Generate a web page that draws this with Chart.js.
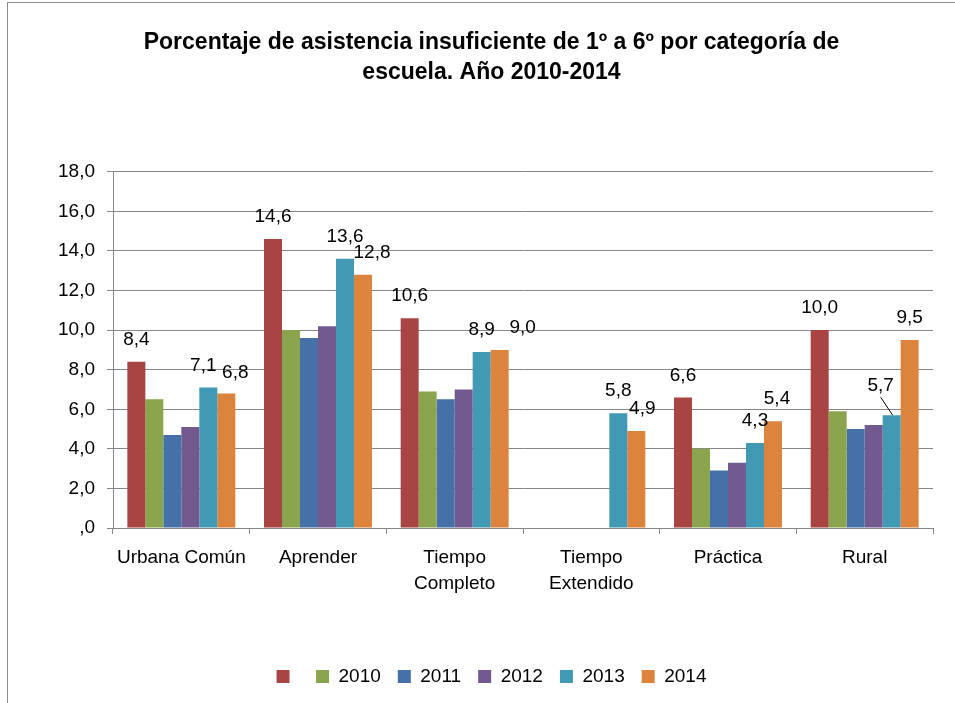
<!DOCTYPE html>
<html>
<head>
<meta charset="utf-8">
<script src="https://cdn.jsdelivr.net/npm/chart.js@4.4.1/dist/chart.umd.min.js"></script>
<style>
  html, body { margin: 0; padding: 0; background: #fff; }
  #wrap { position: relative; width: 955px; height: 703px; overflow: hidden; }
  #frame { position: absolute; left: 7px; top: 2px; width: 960px; height: 720px; border: 1px solid #8c8c8c; box-sizing: border-box; }
  canvas { position: absolute; left: 0; top: 0; }
</style>
</head>
<body>
<div id="wrap">
  <div id="frame"></div>
  <canvas id="chart" width="955" height="703"></canvas>
</div>
<script>
/* ── Data ───────────────────────────────────────────────────────── */
const categories = [['Urbana Común'], ['Aprender'], ['Tiempo', 'Completo'], ['Tiempo', 'Extendido'], ['Práctica'], ['Rural']];
const seriesNames = ['', '2010', '2011', '2012', '2013', '2014'];
const serieSinNombre = [8.4, 14.6, 10.6, null, 6.6, 10.0];
const valores2010 = [6.5, 10.0, 6.9, null, 4.0, 5.9];
const valores2011 = [4.7, 9.6, 6.5, null, 2.9, 5.0];
const valores2012 = [5.1, 10.2, 7.0, null, 3.3, 5.2];
const valores2013 = [7.1, 13.6, 8.9, 5.8, 4.3, 5.7];
const valores2014 = [6.8, 12.8, 9.0, 4.9, 5.4, 9.5];
const yTicks = [0, 2, 4, 6, 8, 10, 12, 14, 16, 18];

const colors = ['#A84542', '#8AA54E', '#4571A8', '#72598F', '#4299B3', '#DC843E'];
const FONT = '"Liberation Sans", Arial, sans-serif';

const fmt = v => v === 0 ? ',0' : v.toFixed(1).replace('.', ',');

/* ── Data labels (series 0, 2013, 2014) ─────────────────────────── */
const labelled = [0, 4, 5];
const nudge = { '4,0': [-5, 0], '5,0': [9, 1], '5,1': [9, 0], '5,2': [23, 0], '5,3': [6, 0], '5,4': [4, 0], '4,5': [-11, -7] };
const valueLabels = {
  id: 'valueLabels',
  afterDatasetsDraw(chart) {
    const ctx = chart.ctx;
    ctx.save();
    ctx.font = '19px ' + FONT;
    ctx.fillStyle = '#000';
    ctx.textAlign = 'center';
    ctx.textBaseline = 'middle';
    labelled.forEach(di => {
      const meta = chart.getDatasetMeta(di);
      chart.data.datasets[di].data.forEach((v, i) => {
        if (v == null) return;
        const bar = meta.data[i];
        const [dx, dy] = nudge[di + ',' + i] || [0, 0];
        const tx = bar.x + dx, ty = bar.y - 22 + dy;
        ctx.fillText(fmt(v), tx, ty);
        if (di === 4 && i === 5) {
          // leader line to the bar
          ctx.strokeStyle = '#000';
          ctx.lineWidth = 1;
          ctx.beginPath();
          ctx.moveTo(tx, ty + 11);
          ctx.lineTo(bar.x + 1, bar.y);
          ctx.stroke();
        }
      });
    });
    ctx.restore();
  }
};

const allSeries = [serieSinNombre, valores2010, valores2011, valores2012, valores2013, valores2014];

new Chart(document.getElementById('chart'), {
  type: 'bar',
  data: {
    labels: categories,
    datasets: allSeries.map((d, k) => ({
      label: seriesNames[k],
      data: d,
      backgroundColor: colors[k],
      borderWidth: 0,
      categoryPercentage: 0.79,
      barPercentage: 1.0,
    }))
  },
  options: {
    responsive: false,
    animation: false,
    devicePixelRatio: 1,
    layout: { padding: { left: 50, right: 22, top: 28, bottom: 7 } },
    plugins: {
      title: {
        display: true,
        text: ['Porcentaje de asistencia insuficiente de 1º a 6º por categoría de', 'escuela. Año 2010-2014'],
        color: '#000',
        font: { family: FONT, size: 23, weight: 'bold', lineHeight: 1.3 },
        padding: { top: 0, bottom: 84 }
      },
      legend: {
        position: 'bottom',
        labels: {
          color: '#000',
          font: { family: FONT, size: 19 },
          boxWidth: 13, boxHeight: 13,
          padding: 17
        }
      },
      tooltip: { enabled: false }
    },
    scales: {
      x: {
        afterFit: s => { s.height = 122; },
        grid: { offset: true, drawOnChartArea: false, drawTicks: true, tickLength: 6, color: '#868686' },
        border: { display: true, color: '#868686' },
        ticks: { color: '#000', font: { family: FONT, size: 19, lineHeight: 1.4 }, padding: 10, maxRotation: 0 }
      },
      y: {
        min: 0, max: 18,
        afterFit: s => { s.width = 63; },
        afterBuildTicks: s => { s.ticks = yTicks.map(v => ({ value: v })); },
        grid: { color: '#868686', tickLength: 6 },
        border: { display: true, color: '#868686' },
        ticks: { color: '#000', font: { family: FONT, size: 19 }, padding: 12, callback: v => fmt(v) }
      }
    }
  },
  plugins: [valueLabels]
});
</script>
</body>
</html>
